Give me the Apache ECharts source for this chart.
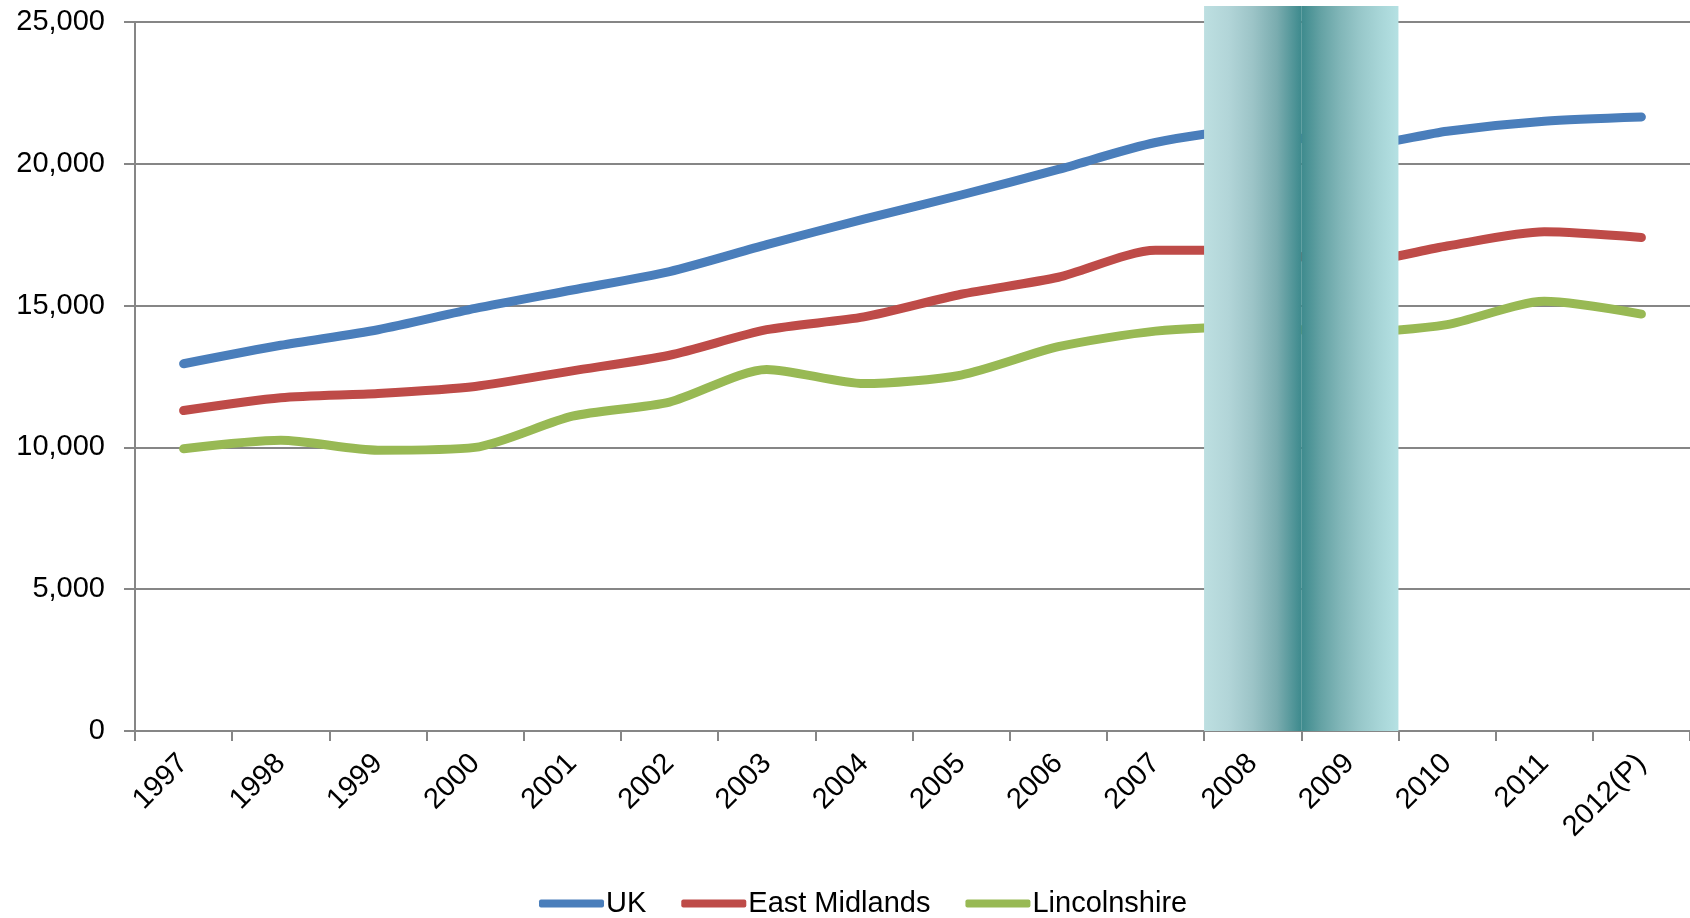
<!DOCTYPE html>
<html>
<head>
<meta charset="utf-8">
<script src="https://cdn.jsdelivr.net/npm/echarts@6/dist/echarts.min.js"></script>
<style>
html,body{margin:0;padding:0;background:#fff;}
#chart{width:1690px;height:918px;}
</style>
</head>
<body>
<div id="chart"></div>
<script>
var years = ['1997','1998','1999','2000','2001','2002','2003','2004','2005','2006','2007','2008','2009','2010','2011','2012(P)'];
var uk = [12950, 13600, 14150, 14900, 15550, 16200, 17150, 18050, 18900, 19800, 20750, 21200, 20600, 21150, 21500, 21650];
var eastMidlands = [11300, 11750, 11900, 12150, 12700, 13250, 14150, 14600, 15400, 16000, 16950, 16950, 16500, 17100, 17600, 17400];
var lincolnshire = [9950, 10250, 9900, 10000, 11100, 11600, 12750, 12250, 12550, 13550, 14100, 14250, 14050, 14330, 15150, 14700];
var recession = [null, null, null, null, null, null, null, null, null, null, null, 25560, 25560, null, null, null];
var yTicks = {min: 0, max: 25000, interval: 5000};

var FONT = 'Liberation Sans';
var FS = 29;
var gridColor = '#868686';

var leftGrad = new echarts.graphic.LinearGradient(0, 0, 1, 0, [
  {offset: 0, color: '#bddfe1'},
  {offset: 0.25, color: '#b2d5d8'},
  {offset: 0.5, color: '#9cc4c7'},
  {offset: 0.75, color: '#7aacaf'},
  {offset: 1, color: '#3d8a8d'}
]);
var rightGrad = new echarts.graphic.LinearGradient(0, 0, 1, 0, [
  {offset: 0, color: '#3d8a8d'},
  {offset: 0.2, color: '#64a2a4'},
  {offset: 0.4, color: '#81b6b8'},
  {offset: 0.6, color: '#97c7c9'},
  {offset: 0.8, color: '#a7d5d7'},
  {offset: 1, color: '#b5e1e3'}
]);
var gradSeq = [leftGrad, rightGrad];
var k = 0;
var recessionData = recession.map(function (v) {
  if (v == null) return null;
  var g = gradSeq[k++ % 2];
  return {value: v, itemStyle: {color: g}};
});

var chart = echarts.init(document.getElementById('chart'));
chart.setOption({
  animation: false,
  backgroundColor: '#ffffff',
  textStyle: {fontFamily: FONT},
  grid: {left: 135, right: 0, top: 22, bottom: 187, containLabel: false},
  legend: {
    data: ['UK', 'East Midlands', 'Lincolnshire'],
    left: 534,
    top: 884,
    icon: 'roundRect',
    itemWidth: 65,
    itemHeight: 8,
    itemGap: 35,
    textStyle: {fontFamily: FONT, fontSize: FS, color: '#000', padding: [0, 0, 0, -3]}
  },
  xAxis: {
    type: 'category',
    data: years,
    boundaryGap: true,
    axisLine: {show: true, lineStyle: {color: gridColor, width: 2}},
    axisTick: {show: true, length: 10, lineStyle: {color: gridColor, width: 2}},
    axisLabel: {
      rotate: 45,
      interval: 0,
      margin: 28,
      fontFamily: FONT,
      fontSize: FS,
      color: '#000'
    },
    splitLine: {show: false}
  },
  yAxis: {
    type: 'value',
    min: yTicks.min,
    max: yTicks.max,
    interval: yTicks.interval,
    axisLine: {show: true, lineStyle: {color: gridColor, width: 2}},
    axisTick: {show: true, length: 11, lineStyle: {color: gridColor, width: 2}},
    axisLabel: {
      margin: 30,
      fontFamily: FONT,
      fontSize: FS,
      color: '#000',
      formatter: function (v) { return v.toLocaleString('en-GB'); }
    },
    splitLine: {show: true, lineStyle: {color: gridColor, width: 2}}
  },
  series: [
    {
      name: 'UK', type: 'line', data: uk, smooth: 0.25, showSymbol: false, z: 2,
      lineStyle: {color: '#4a7ebb', width: 9, cap: 'round', join: 'round'},
      itemStyle: {color: '#4a7ebb'}
    },
    {
      name: 'East Midlands', type: 'line', data: eastMidlands, smooth: 0.25, showSymbol: false, z: 2,
      lineStyle: {color: '#be4b48', width: 9, cap: 'round', join: 'round'},
      itemStyle: {color: '#be4b48'}
    },
    {
      name: 'Lincolnshire', type: 'line', data: lincolnshire, smooth: 0.25, showSymbol: false, z: 2,
      lineStyle: {color: '#98b954', width: 9, cap: 'round', join: 'round'},
      itemStyle: {color: '#98b954'}
    },
    {
      name: 'Recession', type: 'bar', data: recessionData, barWidth: '100%', barGap: '0%',
      clip: false, z: 5, silent: true
    }
  ]
});
</script>
</body>
</html>
